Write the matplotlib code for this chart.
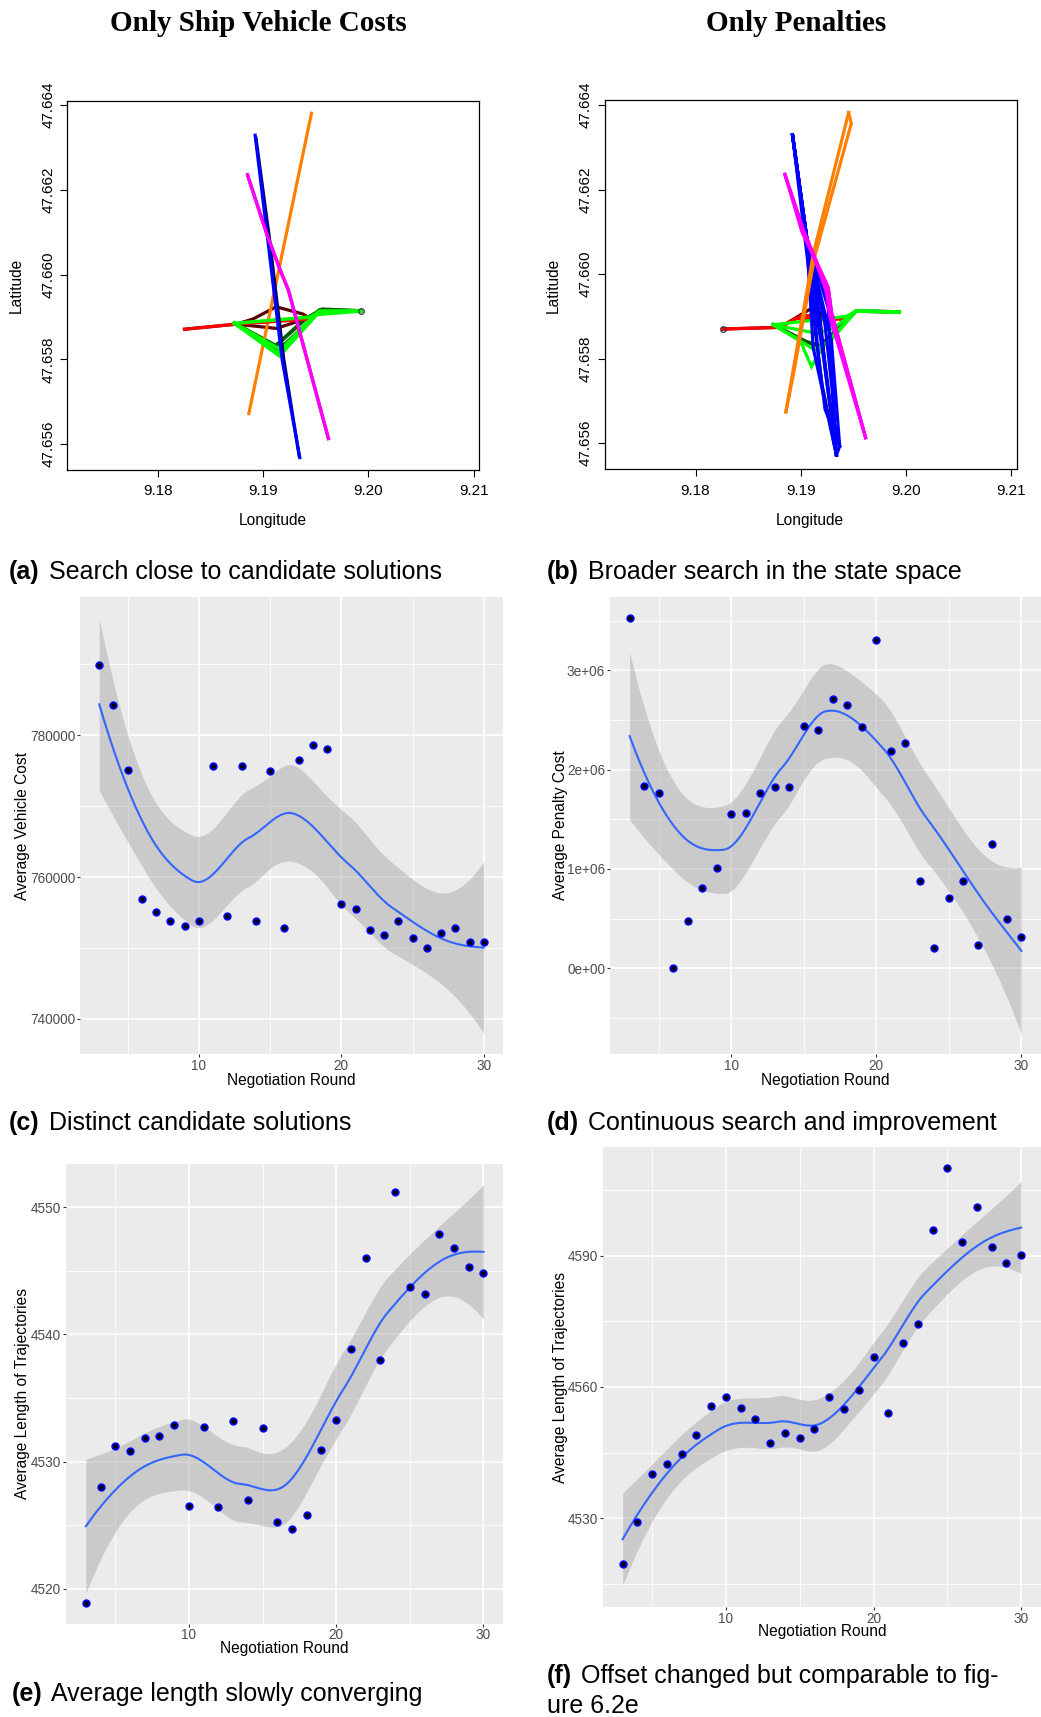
import numpy as np
import matplotlib
matplotlib.use('Agg')
import matplotlib.pyplot as plt

plt.rcParams['font.family'] = ['Liberation Sans', 'DejaVu Sans']

W, H = 1041, 1717

# ---------------- data ----------------
rounds = np.arange(3, 31)

vehicle_cost = [789870, 784310, 775170, 756840, 755100, 753730, 753070, 753830,
                775690, 754490, 775690, 753830, 775030, 752790, 776490, 778700,
                778000, 756140, 755480, 752460, 751750, 753780, 751430, 750010,
                752090, 752790, 750770, 750770]

penalty_cost = [3.527e6, 1.832e6, 1.765e6, 0.0, 0.473e6, 0.805e6, 1.013e6, 1.550e6,
                1.567e6, 1.765e6, 1.826e6, 1.826e6, 2.436e6, 2.399e6, 2.711e6, 2.648e6,
                2.433e6, 3.309e6, 2.191e6, 2.272e6, 0.883e6, 0.208e6, 0.711e6, 0.883e6,
                0.232e6, 1.255e6, 0.493e6, 0.315e6]

length_ship = [4518.91, 4528.01, 4531.24, 4530.81, 4531.87, 4532.01, 4532.90, 4526.49,
               4532.75, 4526.43, 4533.18, 4527.01, 4532.64, 4525.26, 4524.69, 4525.80,
               4530.89, 4533.24, 4538.84, 4546.02, 4537.96, 4551.23, 4543.73, 4543.19,
               4547.88, 4546.77, 4545.34, 4544.85]

length_pen = [4519.64, 4529.24, 4540.11, 4542.39, 4544.75, 4549.13, 4555.70, 4557.81,
              4555.11, 4552.75, 4547.11, 4549.55, 4548.37, 4550.39, 4557.81, 4555.03,
              4559.33, 4566.74, 4554.10, 4569.94, 4574.49, 4595.81, 4609.88, 4593.20,
              4601.04, 4592.02, 4588.31, 4590.17]

# trajectories (lon list, lat list), panel (a): only ship vehicle costs
a_orange = [([9.18864, 9.19459], [47.65672, 47.66381])]
a_blue_dark = [([9.18932, 9.19060, 9.19196, 9.19342], [47.66322, 47.66085, 47.65800, 47.65572])]
a_blue = [([9.18924, 9.19040, 9.19180, 9.19348], [47.66329, 47.66090, 47.65800, 47.65568])]
a_magenta_dark = [([9.18858, 9.19040, 9.19166, 9.19244, 9.19620],
                   [47.66230, 47.66093, 47.66008, 47.65960, 47.65613])]
a_magenta = [([9.18851, 9.19032, 9.19158, 9.19237, 9.19620],
              [47.66236, 47.66097, 47.66013, 47.65966, 47.65613])]
a_red_dark = [([9.18253, 9.18744, 9.18902, 9.19124, 9.19377, 9.19456],
               [47.65871, 47.65883, 47.65895, 47.65924, 47.65907, 47.65895]),
              ([9.18744, 9.19124, 9.19377],
               [47.65883, 47.65873, 47.65893])]
a_red = [([9.18253, 9.18744, 9.19456], [47.65871, 47.65883, 47.65895])]
a_green_dark = [([9.18728, 9.19000, 9.19150, 9.19440, 9.19535, 9.19931],
                 [47.65885, 47.65845, 47.65822, 47.65890, 47.65916, 47.65914]),
                ([9.18728, 9.19120, 9.19400, 9.19560, 9.19931],
                 [47.65885, 47.65832, 47.65895, 47.65918, 47.65914])]
a_green = [([9.18728, 9.19155, 9.19535, 9.19931], [47.65885, 47.65808, 47.65913, 47.65914]),
           ([9.18728, 9.19140, 9.19470, 9.19535, 9.19931],
            [47.65885, 47.65815, 47.65900, 47.65913, 47.65914]),
           ([9.18728, 9.19170, 9.19400, 9.19480, 9.19931],
            [47.65885, 47.65822, 47.65880, 47.65905, 47.65914]),
           ([9.18728, 9.19456, 9.19535, 9.19931], [47.65885, 47.65900, 47.65913, 47.65914])]
a_marker = (9.19931, 47.65914)

# panel (b): only penalties
b_orange = [([9.18858, 9.18927, 9.19120, 9.19454], [47.65674, 47.65773, 47.66050, 47.66382]),
            ([9.18858, 9.18935, 9.19130, 9.19479, 9.19454],
             [47.65674, 47.65770, 47.66040, 47.66356, 47.66382])]
b_blue_dark = [([9.18921, 9.19054, 9.19180, 9.19240, 9.19338],
                [47.66329, 47.66089, 47.65900, 47.65760, 47.65572]),
               ([9.18921, 9.19054, 9.19140, 9.19200, 9.19338],
                [47.66329, 47.66089, 47.65860, 47.65740, 47.65572])]
b_blue = [([9.18921, 9.19054, 9.19117, 9.19338], [47.66329, 47.66089, 47.65826, 47.65572]),
          ([9.18921, 9.19054, 9.19290, 9.19369, 9.19338],
           [47.66329, 47.66089, 47.65843, 47.65593, 47.65572]),
          ([9.18921, 9.19080, 9.19200, 9.19270, 9.19369],
           [47.66329, 47.66000, 47.65830, 47.65700, 47.65593]),
          ([9.18921, 9.19054, 9.19150, 9.19250, 9.19338],
           [47.66329, 47.66089, 47.65940, 47.65750, 47.65572]),
          ([9.18921, 9.19054, 9.19230, 9.19300, 9.19338],
           [47.66329, 47.66089, 47.65880, 47.65720, 47.65572]),
          ([9.18921, 9.19060, 9.19170, 9.19230, 9.19369],
           [47.66329, 47.66070, 47.65800, 47.65680, 47.65593]),
          ([9.18921, 9.19054, 9.19260, 9.19290, 9.19338],
           [47.66329, 47.66089, 47.65920, 47.65780, 47.65572])]
b_magenta_dark = [([9.18852, 9.19030, 9.19170, 9.19262, 9.19292, 9.19615],
                   [47.66232, 47.66100, 47.66015, 47.65965, 47.65908, 47.65613])]
b_magenta = [([9.18849, 9.19022, 9.19164, 9.19259, 9.19290, 9.19615],
              [47.66236, 47.66106, 47.66021, 47.65970, 47.65911, 47.65613]),
             ([9.18849, 9.19010, 9.19140, 9.19240, 9.19275, 9.19615],
              [47.66236, 47.66100, 47.66030, 47.65960, 47.65900, 47.65613])]
b_red_dark = [([9.18260, 9.18801, 9.19101, 9.19250, 9.19432],
               [47.65870, 47.65874, 47.65919, 47.65900, 47.65893])]
b_red = [([9.18260, 9.18801, 9.19022, 9.19432], [47.65870, 47.65874, 47.65903, 47.65893]),
         ([9.18801, 9.18950, 9.19432], [47.65874, 47.65895, 47.65893])]
b_green_dark = [([9.18738, 9.19050, 9.19180, 9.19350, 9.19526, 9.19931],
                 [47.65880, 47.65840, 47.65830, 47.65870, 47.65913, 47.65910])]
b_green = [([9.18738, 9.18991, 9.19101, 9.19211, 9.19526, 9.19931],
            [47.65880, 47.65844, 47.65781, 47.65828, 47.65913, 47.65910]),
           ([9.18738, 9.19132, 9.19290, 9.19526, 9.19931],
            [47.65880, 47.65821, 47.65844, 47.65913, 47.65910]),
           ([9.18738, 9.19148, 9.19300, 9.19526, 9.19931],
            [47.65880, 47.65860, 47.65870, 47.65913, 47.65910]),
           ([9.18738, 9.19432, 9.19526, 9.19931], [47.65880, 47.65900, 47.65913, 47.65910])]
b_marker = (9.18260, 47.65870)


def box(l, t, r, b):
    return [l / W, 1 - b / H, (r - l) / W, (b - t) / H]


def kd_vertices(x, fc):
    # cut points of the loess kd tree (median splits until a cell holds <= fc points)
    verts = {x[0], x[-1]}

    def split(pts):
        if len(pts) <= fc:
            return
        m = (len(pts) - 1) // 2
        cut = 0.5 * (pts[m] + pts[m + 1])
        verts.add(cut)
        split(pts[pts <= cut])
        split(pts[pts > cut])

    split(x)
    return np.array(sorted(verts))


def loess(x, y, xg, span=0.75):
    # local quadratic fit, evaluated on kd-tree vertices and blended with
    # cubic Hermite interpolation, like R's loess(surface = "interpolate")
    x = np.asarray(x, float)
    y = np.asarray(y, float)
    n = len(x)
    q = int(np.floor(n * span))

    def rows(x0):
        d = np.abs(x - x0)
        h = np.sort(d)[q - 1] * 1.0001
        u = np.clip(d / h, 0, 1)
        w = (1 - u ** 3) ** 3
        X = np.column_stack([np.ones(n), x - x0, (x - x0) ** 2])
        XtW = X.T * w
        A = np.linalg.solve(XtW @ X, XtW)
        return A[0], A[1]

    v = kd_vertices(x, int(np.floor(n * span * 0.2)))
    val = np.array([rows(t)[0] for t in v])
    der = np.array([rows(t)[1] for t in v])

    def op(xq):
        out = []
        for t0 in xq:
            i = min(np.searchsorted(v, t0, side='right') - 1, len(v) - 2)
            hh = v[i + 1] - v[i]
            s = (t0 - v[i]) / hh
            h00 = 2 * s ** 3 - 3 * s ** 2 + 1
            h10 = s ** 3 - 2 * s ** 2 + s
            h01 = -2 * s ** 3 + 3 * s ** 2
            h11 = s ** 3 - s ** 2
            out.append(h00 * val[i] + h10 * hh * der[i] + h01 * val[i + 1] + h11 * hh * der[i + 1])
        return np.array(out)

    L = op(x)
    Lg = op(xg)
    res = y - L @ y
    M = (np.eye(n) - L).T @ (np.eye(n) - L)
    d1 = np.trace(M)
    d2 = np.trace(M @ M)
    sig = np.sqrt(np.sum(res ** 2) / d1)
    se = sig * np.sqrt(np.sum(Lg ** 2, axis=1))
    df = d1 ** 2 / d2
    z = 1.959964
    tq = z + (z ** 3 + z) / (4 * df) + (5 * z ** 5 + 16 * z ** 3 + 3 * z) / (96 * df ** 2)
    return Lg @ y, tq * se


def gg_panel(ax, y, ylim, yticks, ylabels, yminor):
    ax.set_facecolor('#EBEBEB')
    for sp in ax.spines.values():
        sp.set_visible(False)
    ax.set_xlim(1.65, 31.35)
    ax.set_ylim(*ylim)
    ax.set_xticks([10, 20, 30])
    ax.set_xticks([5, 15, 25], minor=True)
    ax.set_yticks(yticks)
    ax.set_yticklabels(ylabels)
    ax.set_yticks(yminor, minor=True)
    ax.grid(which='major', color='white', lw=1.2)
    ax.grid(which='minor', color='white', lw=0.6)
    ax.set_axisbelow(True)
    ax.tick_params(which='major', length=2, width=0.8, color='#333333',
                   labelsize=9.8, labelcolor='#4D4D4D', pad=1.5)
    ax.tick_params(which='minor', length=0)
    xs = np.linspace(3, 30, 300)
    fit, band = loess(rounds, y, xs)
    ax.fill_between(xs, fit - band, fit + band, color='#999999', alpha=0.4, lw=0, zorder=2)
    ax.plot(xs, fit, color='#3366FF', lw=1.5, zorder=3)
    ax.plot(rounds, y, 'o', ms=4.8, mfc='black', mec='blue', mew=1.2, zorder=4)


def map_panel(ax, layers, marker):
    for paths, col, lw in layers:
        for lon, lat in paths:
            ax.plot(lon, lat, color=col, lw=lw, solid_joinstyle='miter')
    ax.plot(*marker, 'o', ms=4, mfc='none', mec='#333333', mew=0.9)
    ax.set_xlim(9.1714, 9.2105)
    ax.set_ylim(47.65538, 47.66411)
    ax.set_xticks([9.18, 9.19, 9.20, 9.21])
    ax.set_xticklabels(['9.18', '9.19', '9.20', '9.21'])
    yt = [47.656, 47.658, 47.660, 47.662, 47.664]
    ax.set_yticks(yt)
    ax.set_yticklabels(['%.3f' % v for v in yt], rotation=90, va='center')
    ax.tick_params(axis='x', length=5.2, width=0.8, labelsize=11, pad=5)
    ax.tick_params(axis='y', length=5.2, width=0.8, labelsize=11, pad=3.5)
    for sp in ax.spines.values():
        sp.set_linewidth(0.9)


fig = plt.figure(figsize=(W / 100, H / 100), dpi=100)

# maps
ax_a = fig.add_axes(box(67.3, 100.5, 479, 470.3))
map_panel(ax_a, [(a_red_dark, '#5A0000', 2.3), (a_green_dark, '#005A00', 2.8),
                 (a_orange, '#FF7F00', 2.3), (a_red, '#FF0000', 2.3), (a_green, '#00FF00', 2.5),
                 (a_blue_dark, '#000066', 2.3), (a_blue, '#0000FF', 2.3),
                 (a_magenta_dark, '#7A1A7A', 2.3), (a_magenta, '#FF00FF', 2.4)], a_marker)
ax_b = fig.add_axes(box(605, 100.3, 1016.7, 469.4))
map_panel(ax_b, [(b_red_dark, '#5A0000', 2.3), (b_green_dark, '#005A00', 2.8),
                 (b_red, '#FF0000', 2.3), (b_green, '#00FF00', 2.3),
                 (b_blue_dark, '#000066', 2.3), (b_blue, '#0000FF', 2.3),
                 (b_orange, '#FF7F00', 2.3),
                 (b_magenta_dark, '#7A1A7A', 2.3), (b_magenta, '#FF00FF', 2.3)], b_marker)

fig.text(258.7 / W, 1 - 23.3 / H, 'Only Ship Vehicle Costs', family='Liberation Serif',
         weight='bold', fontsize=21, ha='center', va='center')
fig.text(795.8 / W, 1 - 23.3 / H, 'Only Penalties', family='Liberation Serif',
         weight='bold', fontsize=21, ha='center', va='center')
for xc, yl in [(273, 16), (810, 553.3)]:
    fig.text(xc / W, 1 - 520.5 / H, 'Longitude', fontsize=11.2, ha='center', va='center')
    fig.text(yl / W, 1 - 285.4 / H, 'Latitude', fontsize=11.2, ha='center', va='center',
             rotation=90)

# scatter panels
ax_c = fig.add_axes(box(80, 597, 503, 1054))
gg_panel(ax_c, vehicle_cost, (735020, 799520), [740000, 760000, 780000],
         ['740000', '760000', '780000'], [750000, 770000, 790000])
ax_d = fig.add_axes(box(610, 597, 1041, 1054))
gg_panel(ax_d, penalty_cost, (-0.863e6, 3.738e6), [0, 1e6, 2e6, 3e6],
         ['0e+00', '1e+06', '2e+06', '3e+06'], [-0.5e6, 0.5e6, 1.5e6, 2.5e6, 3.5e6])
ax_e = fig.add_axes(box(66, 1163.8, 503.3, 1623.6))
gg_panel(ax_e, length_ship, (4517.25, 4553.43), [4520, 4530, 4540, 4550],
         ['4520', '4530', '4540', '4550'], [4525, 4535, 4545])
ax_f = fig.add_axes(box(602.7, 1147.4, 1041, 1607))
gg_panel(ax_f, length_pen, (4509.78, 4614.69), [4530, 4560, 4590],
         ['4530', '4560', '4590'], [4515, 4545, 4575, 4605])

for xc, yc, txt in [(22.7, 825.5, 'Average Vehicle Cost'), (560, 825.5, 'Average Penalty Cost'),
                    (22.7, 1393.7, 'Average Length of Trajectories'),
                    (560, 1377, 'Average Length of Trajectories')]:
    fig.text(xc / W, 1 - yc / H, txt, fontsize=11.2, rotation=90, ha='center', va='center')
for xc, yc in [(291.5, 1080), (825.3, 1080), (284.7, 1648), (822, 1631)]:
    fig.text(xc / W, 1 - yc / H, 'Negotiation Round', fontsize=11.2, ha='center', va='center')

# captions
renderer = fig.canvas.get_renderer()


def caption(x, y, tag, txt):
    t = fig.text(x / W, 1 - y / H, tag, fontsize=18, weight='bold', va='baseline')
    bb = t.get_window_extent(renderer)
    fig.text((bb.x1 + 9) / W, 1 - y / H, txt, fontsize=18, va='baseline')


caption(9, 579, '(a)', 'Search close to candidate solutions')
caption(547, 579, '(b)', 'Broader search in the state space')
caption(9, 1130, '(c)', 'Distinct candidate solutions')
caption(547, 1130, '(d)', 'Continuous search and improvement')
caption(11.7, 1700.6, '(e)', 'Average length slowly converging')
caption(546.7, 1682.7, '(f)', 'Offset changed but comparable to fig-')
fig.text(546.7 / W, 1 - 1713 / H, 'ure 6.2e', fontsize=18, va='baseline')

fig.savefig('out.png', dpi=100)
